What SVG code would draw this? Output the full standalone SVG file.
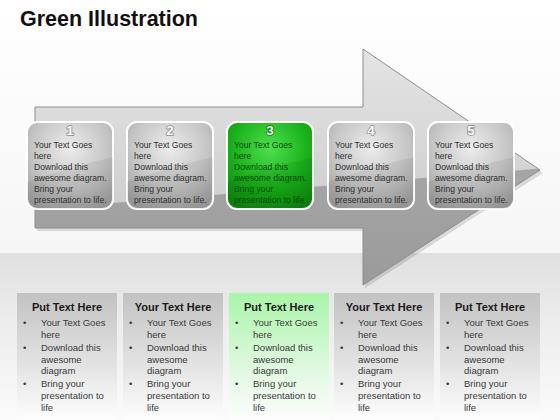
<svg xmlns="http://www.w3.org/2000/svg" width="560" height="420" viewBox="0 0 560 420">
<defs>
<linearGradient id="bg" x1="0" y1="0" x2="0" y2="1"><stop offset="0" stop-color="#ffffff"/><stop offset="1" stop-color="#f0f0f0"/></linearGradient>
<linearGradient id="band" x1="0" y1="0" x2="0" y2="1"><stop offset="0" stop-color="#e0e0e0"/><stop offset="0.4" stop-color="#ececec"/><stop offset="1" stop-color="#fbfbfb"/></linearGradient>
<linearGradient id="arrowUp" x1="0" y1="0" x2="0" y2="1"><stop offset="0" stop-color="#e4e4e4"/><stop offset="1" stop-color="#c4c4c4"/></linearGradient>
<linearGradient id="arrowLow" x1="0" y1="0" x2="0" y2="1"><stop offset="0" stop-color="#a6a6a6"/><stop offset="1" stop-color="#999999"/></linearGradient>
<radialGradient id="gbox" cx="0.5" cy="0.3" r="0.75"><stop offset="0" stop-color="#ececec"/><stop offset="0.6" stop-color="#c4c4c4"/><stop offset="1" stop-color="#9e9e9e"/></radialGradient>
<radialGradient id="grbox" cx="0.5" cy="0.3" r="0.75"><stop offset="0" stop-color="#4fe04f"/><stop offset="0.6" stop-color="#18b018"/><stop offset="1" stop-color="#0a8a0a"/></radialGradient>
<linearGradient id="panel" x1="0" y1="0" x2="0" y2="1"><stop offset="0" stop-color="#c2c2c2"/><stop offset="0.55" stop-color="#e2e2e2"/><stop offset="1" stop-color="#fdfdfd"/></linearGradient>
<linearGradient id="gpanel" x1="0" y1="0" x2="0" y2="1"><stop offset="0" stop-color="#a8f5a8"/><stop offset="0.55" stop-color="#dcf8dc"/><stop offset="1" stop-color="#fdfdfd"/></linearGradient>
<clipPath id="arrowClip"><polygon points="35,107 363,107 363,49 540,170 363,285 363,228 35,228"/></clipPath>
<clipPath id="boxClip"><rect x="0" y="0" width="86" height="87" rx="10"/></clipPath>
</defs>
<style>
.title{font-family:"Liberation Sans",Arial,sans-serif;font-weight:bold;font-size:21.5px;fill:#111}
.num{font-family:"Liberation Sans",Arial,sans-serif;font-weight:bold;font-size:13.5px;fill:#ffffff;text-anchor:middle;stroke:#8c8c8c;stroke-width:1.6;paint-order:stroke;stroke-linejoin:round}
.gnum{stroke:#0b7a0b}
.bt{font-family:"Liberation Sans",Arial,sans-serif;font-size:8.6px;fill:#2e2e2e}
.gt{fill:#0c4a0c}
.box{stroke:#ffffff;stroke-width:2}
.hd{font-family:"Liberation Sans",Arial,sans-serif;font-weight:bold;font-size:11px;fill:#1a1a1a;text-anchor:middle}
.pt{font-family:"Liberation Sans",Arial,sans-serif;font-size:9.5px;fill:#3a3a3a}
.gloss{fill:#000;opacity:0.06}
</style>
<rect x="0" y="0" width="560" height="420" fill="url(#bg)"/>
<rect x="0" y="253" width="560" height="167" fill="url(#band)"/>
<text class="title" x="20" y="26">Green Illustration</text>

<g id="arrow">
<polygon points="37,110 365,110 365,52 543,173 365,288 365,231 37,231" fill="#000" opacity="0.12"/>
<polygon points="35,107 363,107 363,49 540,170 363,285 363,228 35,228" fill="url(#arrowUp)"/>
<polygon clip-path="url(#arrowClip)" points="0,212 560,167 560,300 0,300" fill="url(#arrowLow)"/>
<polygon points="35,107 363,107 363,49 540,170 363,285 363,228 35,228" fill="none" stroke="#8e8e8e" stroke-width="1"/>
</g>

<g id="step1" transform="translate(27,122)">
<rect class="box" width="86" height="87" rx="10" fill="url(#gbox)"/>
<path class="gloss" clip-path="url(#boxClip)" d="M0,60 Q43,45 86,35 L86,87 L0,87Z"/>
<text class="num" x="43" y="13">1</text>
<text class="bt" x="7" y="26">Your Text Goes</text><text class="bt" x="7" y="37">here</text><text class="bt" x="7" y="48">Download this</text><text class="bt" x="7" y="59">awesome diagram.</text><text class="bt" x="7" y="70">Bring your</text><text class="bt" x="7" y="81">presentation to life.</text>
</g>
<g id="step2" transform="translate(127,122)">
<rect class="box" width="86" height="87" rx="10" fill="url(#gbox)"/>
<path class="gloss" clip-path="url(#boxClip)" d="M0,60 Q43,45 86,35 L86,87 L0,87Z"/>
<text class="num" x="43" y="13">2</text>
<text class="bt" x="7" y="26">Your Text Goes</text><text class="bt" x="7" y="37">here</text><text class="bt" x="7" y="48">Download this</text><text class="bt" x="7" y="59">awesome diagram.</text><text class="bt" x="7" y="70">Bring your</text><text class="bt" x="7" y="81">presentation to life.</text>
</g>
<g id="step3" transform="translate(227,122)">
<rect class="box" width="86" height="87" rx="10" fill="url(#grbox)"/>
<path class="gloss" clip-path="url(#boxClip)" d="M0,60 Q43,45 86,35 L86,87 L0,87Z"/>
<text class="num gnum" x="43" y="13">3</text>
<text class="bt gt" x="7" y="26">Your Text Goes</text><text class="bt gt" x="7" y="37">here</text><text class="bt gt" x="7" y="48">Download this</text><text class="bt gt" x="7" y="59">awesome diagram.</text><text class="bt gt" x="7" y="70">Bring your</text><text class="bt gt" x="7" y="81">presentation to life.</text>
</g>
<g id="step4" transform="translate(328,122)">
<rect class="box" width="86" height="87" rx="10" fill="url(#gbox)"/>
<path class="gloss" clip-path="url(#boxClip)" d="M0,60 Q43,45 86,35 L86,87 L0,87Z"/>
<text class="num" x="43" y="13">4</text>
<text class="bt" x="7" y="26">Your Text Goes</text><text class="bt" x="7" y="37">here</text><text class="bt" x="7" y="48">Download this</text><text class="bt" x="7" y="59">awesome diagram.</text><text class="bt" x="7" y="70">Bring your</text><text class="bt" x="7" y="81">presentation to life.</text>
</g>
<g id="step5" transform="translate(428,122)">
<rect class="box" width="86" height="87" rx="10" fill="url(#gbox)"/>
<path class="gloss" clip-path="url(#boxClip)" d="M0,60 Q43,45 86,35 L86,87 L0,87Z"/>
<text class="num" x="43" y="13">5</text>
<text class="bt" x="7" y="26">Your Text Goes</text><text class="bt" x="7" y="37">here</text><text class="bt" x="7" y="48">Download this</text><text class="bt" x="7" y="59">awesome diagram.</text><text class="bt" x="7" y="70">Bring your</text><text class="bt" x="7" y="81">presentation to life.</text>
</g>

<g id="panel1" transform="translate(17,293)">
<rect width="100" height="127" fill="url(#panel)"/>
<text class="hd" x="50" y="18">Put Text Here</text>
<text class="pt" x="6" y="33">•</text><text class="pt" x="24" y="33">Your Text Goes</text><text class="pt" x="24" y="45">here</text>
<text class="pt" x="6" y="58">•</text><text class="pt" x="24" y="58">Download this</text><text class="pt" x="24" y="70">awesome</text><text class="pt" x="24" y="81">diagram</text>
<text class="pt" x="6" y="94">•</text><text class="pt" x="24" y="94">Bring your</text><text class="pt" x="24" y="106">presentation to</text><text class="pt" x="24" y="118">life</text>
</g>
<g id="panel2" transform="translate(123,293)">
<rect width="100" height="127" fill="url(#panel)"/>
<text class="hd" x="50" y="18">Your Text Here</text>
<text class="pt" x="6" y="33">•</text><text class="pt" x="24" y="33">Your Text Goes</text><text class="pt" x="24" y="45">here</text>
<text class="pt" x="6" y="58">•</text><text class="pt" x="24" y="58">Download this</text><text class="pt" x="24" y="70">awesome</text><text class="pt" x="24" y="81">diagram</text>
<text class="pt" x="6" y="94">•</text><text class="pt" x="24" y="94">Bring your</text><text class="pt" x="24" y="106">presentation to</text><text class="pt" x="24" y="118">life</text>
</g>
<g id="panel3" transform="translate(229,293)">
<rect width="100" height="127" fill="url(#gpanel)"/>
<text class="hd" x="50" y="18">Put Text Here</text>
<text class="pt" x="6" y="33">•</text><text class="pt" x="24" y="33">Your Text Goes</text><text class="pt" x="24" y="45">here</text>
<text class="pt" x="6" y="58">•</text><text class="pt" x="24" y="58">Download this</text><text class="pt" x="24" y="70">awesome</text><text class="pt" x="24" y="81">diagram</text>
<text class="pt" x="6" y="94">•</text><text class="pt" x="24" y="94">Bring your</text><text class="pt" x="24" y="106">presentation to</text><text class="pt" x="24" y="118">life</text>
</g>
<g id="panel4" transform="translate(334,293)">
<rect width="100" height="127" fill="url(#panel)"/>
<text class="hd" x="50" y="18">Your Text Here</text>
<text class="pt" x="6" y="33">•</text><text class="pt" x="24" y="33">Your Text Goes</text><text class="pt" x="24" y="45">here</text>
<text class="pt" x="6" y="58">•</text><text class="pt" x="24" y="58">Download this</text><text class="pt" x="24" y="70">awesome</text><text class="pt" x="24" y="81">diagram</text>
<text class="pt" x="6" y="94">•</text><text class="pt" x="24" y="94">Bring your</text><text class="pt" x="24" y="106">presentation to</text><text class="pt" x="24" y="118">life</text>
</g>
<g id="panel5" transform="translate(440,293)">
<rect width="100" height="127" fill="url(#panel)"/>
<text class="hd" x="50" y="18">Put Text Here</text>
<text class="pt" x="6" y="33">•</text><text class="pt" x="24" y="33">Your Text Goes</text><text class="pt" x="24" y="45">here</text>
<text class="pt" x="6" y="58">•</text><text class="pt" x="24" y="58">Download this</text><text class="pt" x="24" y="70">awesome</text><text class="pt" x="24" y="81">diagram</text>
<text class="pt" x="6" y="94">•</text><text class="pt" x="24" y="94">Bring your</text><text class="pt" x="24" y="106">presentation to</text><text class="pt" x="24" y="118">life</text>
</g>
<g id="connectors"></g>
</svg>
